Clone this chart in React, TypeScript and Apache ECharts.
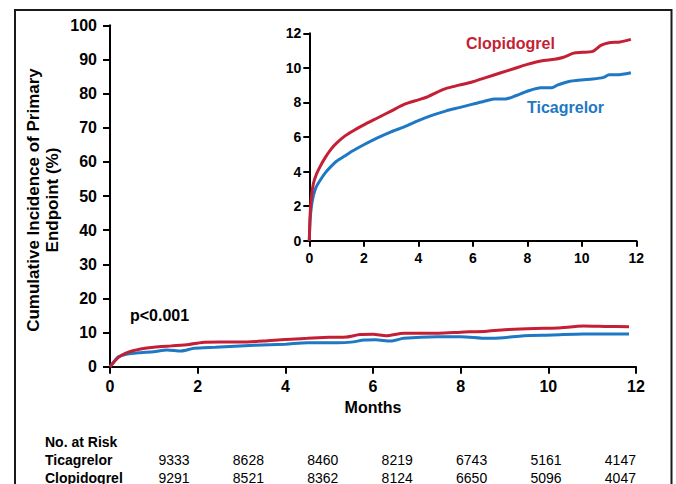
import React, { useEffect, useRef } from "react";
import * as echarts from "echarts";

// ---- Data ----
const monthTicks = [0, 2, 4, 6, 8, 10, 12];

// Main panel (0-100 %)
const mainClopMonths = [0, 0.1, 0.2, 0.35, 0.5, 0.7, 1.0, 1.4, 1.8, 2.1, 2.5, 3.0, 3.5, 4.0, 4.5, 5.0, 5.4, 5.7, 6.0, 6.3, 6.7, 7.0, 7.5, 8.0, 8.6, 9.1, 9.7, 10.2, 10.8, 11.3, 11.84];
const mainClopValues = [0, 1.5, 2.8, 3.9, 4.6, 5.2, 5.7, 6.1, 6.5, 7.1, 7.2, 7.2, 7.5, 8.0, 8.3, 8.6, 8.7, 9.4, 9.5, 9.1, 9.8, 9.8, 9.8, 10.1, 10.4, 10.9, 11.2, 11.3, 11.9, 11.8, 11.7];
const mainTicaMonths = [0, 0.1, 0.19, 0.35, 0.65, 1.0, 1.3, 1.62, 1.92, 2.4, 3.3, 4.0, 4.5, 5.2, 5.5, 5.8, 6.06, 6.4, 6.7, 7.46, 8.0, 8.6, 8.98, 9.44, 10.1, 10.8, 11.84];
const mainTicaValues = [0, 1.6, 2.9, 3.6, 4.1, 4.4, 4.9, 4.6, 5.4, 5.7, 6.3, 6.6, 7.0, 7.0, 7.2, 7.8, 7.9, 7.5, 8.3, 8.8, 8.8, 8.3, 8.5, 9.1, 9.3, 9.6, 9.6];

// Inset panel (0-12 %)
const insetClopMonths = [0, 0.03, 0.08, 0.15, 0.25, 0.4, 0.6, 0.8, 1.0, 1.3, 1.6, 2.0, 2.5, 3.0, 3.5, 4.0, 4.3, 4.7, 5.0, 5.5, 6.0, 6.5, 7.0, 7.5, 8.0, 8.5, 9.0, 9.3, 9.7, 10.0, 10.4, 10.7, 11.0, 11.4, 11.8];
const insetClopValues = [0, 1.5, 2.6, 3.3, 3.8, 4.3, 4.85, 5.3, 5.65, 6.05, 6.35, 6.7, 7.1, 7.5, 7.9, 8.15, 8.3, 8.6, 8.8, 9.0, 9.2, 9.45, 9.7, 9.95, 10.2, 10.4, 10.5, 10.6, 10.85, 10.9, 10.95, 11.3, 11.45, 11.5, 11.65];
const insetTicaMonths = [0, 0.03, 0.08, 0.15, 0.25, 0.4, 0.6, 0.8, 1.0, 1.3, 1.6, 2.0, 2.5, 3.0, 3.5, 4.0, 4.5, 5.0, 5.5, 6.0, 6.5, 6.8, 7.2, 7.6, 8.0, 8.5, 8.9, 9.1, 9.5, 10.0, 10.4, 10.8, 11.0, 11.3, 11.8];
const insetTicaValues = [0, 1.2, 2.0, 2.6, 3.1, 3.5, 3.95, 4.3, 4.6, 4.9, 5.2, 5.55, 5.95, 6.3, 6.6, 6.95, 7.25, 7.5, 7.7, 7.9, 8.1, 8.2, 8.2, 8.4, 8.65, 8.85, 8.85, 9.0, 9.2, 9.3, 9.35, 9.45, 9.6, 9.6, 9.72];

// Number at risk
const riskTicagrelor = [9333, 8628, 8460, 8219, 6743, 5161, 4147];
const riskClopidogrel = [9291, 8521, 8362, 8124, 6650, 5096, 4047];

const RED = "#C41F35";
const BLUE = "#1F78C3";
const FONT = "'Liberation Sans', Arial, Helvetica, sans-serif";

const zip = (xs: number[], ys: number[]) => xs.map((x, i) => [x, ys[i]]);

export default function App() {
  const ref = useRef<HTMLDivElement>(null);

  useEffect(() => {
    if (!ref.current) return;
    const chart = echarts.init(ref.current, undefined, { renderer: "svg" });

    const axisLine = { show: true, lineStyle: { color: "#000", width: 2 } };
    const lineSeries = (name: string, data: number[][], color: string, xi: number, yi: number) => ({
      type: "line",
      name,
      xAxisIndex: xi,
      yAxisIndex: yi,
      data,
      showSymbol: false,
      smooth: 0.25,
      lineStyle: { color, width: 3 },
      itemStyle: { color },
      z: 5,
    });

    const riskX = (i: number) => 174 + i * 74.4;
    const riskTexts: any[] = [];
    riskTicagrelor.forEach((v, i) => {
      riskTexts.push({
        type: "text",
        x: riskX(i),
        y: 460,
        style: { text: String(v), font: `14px ${FONT}`, fill: "#000", align: "center", verticalAlign: "middle" },
      });
    });
    riskClopidogrel.forEach((v, i) => {
      riskTexts.push({
        type: "text",
        x: riskX(i),
        y: 477.5,
        style: { text: String(v), font: `14px ${FONT}`, fill: "#000", align: "center", verticalAlign: "middle" },
      });
    });

    chart.setOption({
      animation: false,
      backgroundColor: "#fff",
      grid: [
        { left: 110, right: 40, top: 25.3, bottom: 117.3, containLabel: false },
        { left: 309.3, right: 39.7, top: 33.3, bottom: 243.3, containLabel: false },
      ],
      xAxis: [
        {
          type: "value",
          gridIndex: 0,
          min: 0,
          max: 12,
          interval: 2,
          axisLine,
          axisTick: { show: true, inside: false, length: 7, lineStyle: { color: "#000", width: 2 } },
          axisLabel: { margin: 12, color: "#000", fontWeight: "bold", fontSize: 16, fontFamily: FONT },
          splitLine: { show: false },
          name: "Months",
          nameLocation: "middle",
          nameGap: 31,
          nameTextStyle: { color: "#000", fontWeight: "bold", fontSize: 16, fontFamily: FONT },
        },
        {
          type: "value",
          gridIndex: 1,
          min: 0,
          max: 12,
          interval: 2,
          axisLine,
          axisTick: { show: true, inside: false, length: 6, lineStyle: { color: "#000", width: 2 } },
          axisLabel: { margin: 10, color: "#000", fontWeight: "bold", fontSize: 14, fontFamily: FONT },
          splitLine: { show: false },
        },
      ],
      yAxis: [
        {
          type: "value",
          gridIndex: 0,
          min: 0,
          max: 100,
          interval: 10,
          axisLine,
          axisTick: { show: true, inside: false, length: 7, lineStyle: { color: "#000", width: 2 } },
          axisLabel: { margin: 13, color: "#000", fontWeight: "bold", fontSize: 16, fontFamily: FONT },
          splitLine: { show: false },
        },
        {
          type: "value",
          gridIndex: 1,
          min: 0,
          max: 12,
          interval: 2,
          axisLine,
          axisTick: { show: true, inside: false, length: 6, lineStyle: { color: "#000", width: 2 } },
          axisLabel: { margin: 8, color: "#000", fontWeight: "bold", fontSize: 14, fontFamily: FONT },
          splitLine: { show: false },
        },
      ],
      series: [
        lineSeries("Ticagrelor", zip(mainTicaMonths, mainTicaValues), BLUE, 0, 0),
        lineSeries("Clopidogrel", zip(mainClopMonths, mainClopValues), RED, 0, 0),
        lineSeries("Ticagrelor", zip(insetTicaMonths, insetTicaValues), BLUE, 1, 1),
        lineSeries("Clopidogrel", zip(insetClopMonths, insetClopValues), RED, 1, 1),
      ],
      graphic: [
        {
          type: "rect",
          shape: { x: 15, y: 10, width: 656.5, height: 500 },
          style: { fill: "none", stroke: "#1a1a1a", lineWidth: 2 },
          silent: true,
        },
        {
          type: "text",
          x: 42.5,
          y: 200,
          rotation: Math.PI / 2,
          style: {
            text: "Cumulative Incidence of Primary\nEndpoint (%)",
            font: `bold 17px ${FONT}`,
            lineHeight: 19,
            fill: "#000",
            align: "center",
            verticalAlign: "middle",
          },
        },
        {
          type: "text",
          x: 130,
          y: 315,
          style: { text: "p<0.001", font: `bold 16px ${FONT}`, fill: "#000", align: "left", verticalAlign: "middle" },
        },
        {
          type: "text",
          x: 466,
          y: 43,
          style: { text: "Clopidogrel", font: `bold 16px ${FONT}`, fill: RED, align: "left", verticalAlign: "middle" },
        },
        {
          type: "text",
          x: 527,
          y: 107,
          style: { text: "Ticagrelor", font: `bold 16px ${FONT}`, fill: BLUE, align: "left", verticalAlign: "middle" },
        },
        {
          type: "text",
          x: 45,
          y: 441.5,
          style: { text: "No. at Risk", font: `bold 14px ${FONT}`, fill: "#000", align: "left", verticalAlign: "middle" },
        },
        {
          type: "text",
          x: 45,
          y: 460,
          style: { text: "Ticagrelor", font: `bold 14px ${FONT}`, fill: "#000", align: "left", verticalAlign: "middle" },
        },
        {
          type: "text",
          x: 45,
          y: 477.5,
          style: { text: "Clopidogrel", font: `bold 14px ${FONT}`, fill: "#000", align: "left", verticalAlign: "middle" },
        },
        ...riskTexts,
      ],
    });

    return () => chart.dispose();
  }, []);

  return (
    <div style={{ position: "fixed", left: 0, top: 0, width: 676, height: 484, background: "#fff" }}>
      <div ref={ref} style={{ width: 676, height: 484 }} />
    </div>
  );
}
